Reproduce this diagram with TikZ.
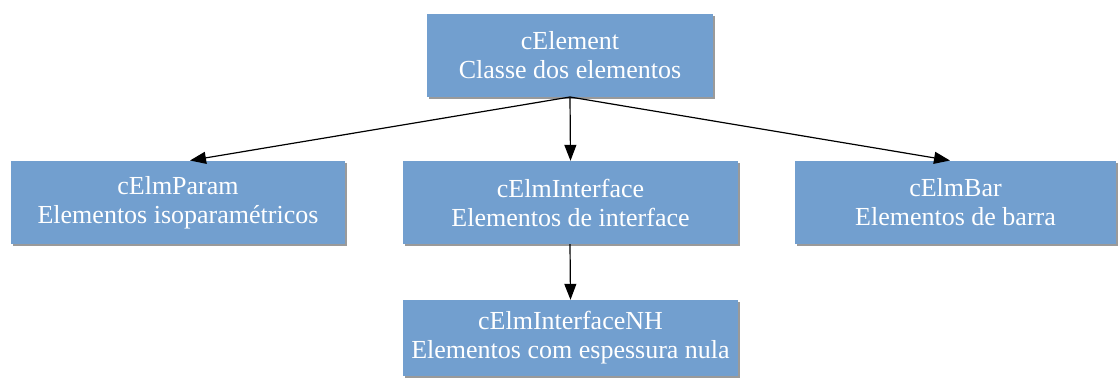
\documentclass[tikz,border=0pt]{standalone}
\usepackage{fontspec}
\setmainfont{Liberation Serif}
\usetikzlibrary{arrows.meta}
\definecolor{boxblue}{HTML}{729FCF}
\definecolor{shadowgrey}{HTML}{9A9A9A}
\tikzset{
  cls/.style={draw=none, fill=boxblue, text=white, align=center, inner sep=0pt,
    font=\fontsize{26}{29}\selectfont},
  conn/.style={-{Triangle[length=16pt,width=12pt]}, line width=1.2pt, black},
}
\newcommand{\clsbox}[6]{%
  % name, x1, y1, x2, y2, text
  \fill[shadowgrey] (#2+2,#3+2) rectangle (#4+2,#5+2);
  \node[cls, minimum width=#4-#2, minimum height=#5-#3] (#1) at ({(#2+#4)/2},{(#3+#5)/2}) {#6};
}
\begin{document}
\begin{tikzpicture}[x=1pt,y=-1pt]
\useasboundingbox (0,0) rectangle (1118,378);
\clsbox{elem}{427}{14}{713}{97}{cElement\\Classe dos elementos}
\clsbox{param}{11}{161}{345}{244}{cElmParam\\Elementos isoparamétricos}
\clsbox{inter}{403}{161}{738}{244}{cElmInterface\\Elementos de interface}
\clsbox{bar}{795}{161}{1116}{244}{cElmBar\\Elementos de barra}
\clsbox{nh}{403}{300}{738}{376}{cElmInterfaceNH\\Elementos com espessura nula}
\coordinate (s1) at (570,97);
\coordinate (s2) at (570,244);
\draw[conn] (s1) -- (190,160.5);
\draw[conn] (s1) -- (inter.north);
\draw[conn] (s1) -- (950,160.5);
\draw[conn] (s2) -- (nh.north);
\end{tikzpicture}
\end{document}
